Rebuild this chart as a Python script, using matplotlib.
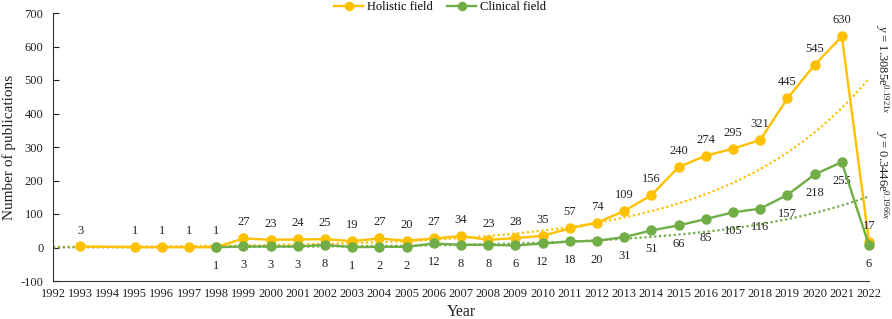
import numpy as np
import matplotlib
matplotlib.use("Agg")
import matplotlib.pyplot as plt

plt.rcParams['font.family'] = ['Liberation Serif', 'DejaVu Serif']
plt.rcParams['axes.unicode_minus'] = False
plt.rcParams['mathtext.fontset'] = 'custom'
plt.rcParams['mathtext.rm'] = 'Liberation Serif'
plt.rcParams['mathtext.it'] = 'Liberation Serif:italic'

holistic_years = [1993, 1995, 1996, 1997, 1998, 1999, 2000, 2001, 2002, 2003, 2004, 2005,
                  2006, 2007, 2008, 2009, 2010, 2011, 2012, 2013, 2014, 2015, 2016, 2017,
                  2018, 2019, 2020, 2021, 2022]
holistic_values = [3, 1, 1, 1, 1, 27, 23, 24, 25, 19, 27, 20, 27, 34, 23, 28, 35, 57, 74,
                   109, 156, 240, 274, 295, 321, 445, 545, 630, 17]
clinical_years = [1998, 1999, 2000, 2001, 2002, 2003, 2004, 2005, 2006, 2007, 2008, 2009,
                  2010, 2011, 2012, 2013, 2014, 2015, 2016, 2017, 2018, 2019, 2020, 2021, 2022]
clinical_values = [1, 3, 3, 3, 8, 1, 2, 2, 12, 8, 8, 6, 12, 18, 20, 31, 51, 66, 85, 105,
                   116, 157, 218, 255, 6]
# exponential trendlines y = a*exp(b*x), x = 1 at 1992
holistic_trend = (1.3085, 0.1921)
clinical_trend = (0.3446, 0.1966)
year_labels = list(range(1992, 2023))

c_hol = '#FFC000'
c_cli = '#70AD47'
tc = '#222222'

fig = plt.figure(figsize=(8.92, 3.19), dpi=100)
ax = fig.add_axes([53/892, 38/319, 816/892, 268/319])

tx = np.linspace(1992, 2022, 300)
xi = tx - 1991
ax.plot(tx, holistic_trend[0]*np.exp(holistic_trend[1]*xi), ls=(0, (1, 1.2)), color=c_hol, lw=1.6, zorder=2)
ax.plot(tx, clinical_trend[0]*np.exp(clinical_trend[1]*xi), ls=(0, (1, 1.2)), color=c_cli, lw=1.6, zorder=2)

ax.plot(holistic_years, holistic_values, '-o', color=c_hol, lw=1.7, ms=6.5, label='Holistic field', zorder=3, clip_on=False)
ax.plot(clinical_years, clinical_values, '-o', color=c_cli, lw=1.7, ms=6.5, label='Clinical field', zorder=4, clip_on=False)

for x, v in zip(holistic_years, holistic_values):
    ax.annotate(str(v), (x, v), xytext=(0, 11.5), textcoords='offset points', ha='center', va='center', fontsize=9, color=tc)
for x, v in zip(clinical_years, clinical_values):
    ax.annotate(str(v), (x, v), xytext=(0, -13.5), textcoords='offset points', ha='center', va='center', fontsize=9, color=tc)

ax.set_xlim(1992, 2022)
ax.set_ylim(-100, 700)
ax.set_yticks(range(-100, 701, 100))
ax.set_xticks(year_labels)
ax.set_xticklabels([str(y) for y in year_labels])
ax.tick_params(axis='x', length=0, labelsize=9, pad=5, colors=tc)
ax.set_xticks(range(1992, 2023, 2), minor=True)
ax.tick_params(axis='x', which='minor', direction='in', length=4, color='#333333')
ax.tick_params(axis='y', direction='in', length=4, labelsize=9, colors=tc, pad=7)
for s in ['top', 'right']:
    ax.spines[s].set_visible(False)
for s in ['left', 'bottom']:
    ax.spines[s].set_color('#333333')

ax.set_ylabel('Number of publications', fontsize=11, color=tc, labelpad=3)
ax.set_xlabel('Year', fontsize=11.5, color=tc, labelpad=3)

fig.text(882/892, 1 - 69/319, r'$y$ = 1.3085e$^{0.1921x}$', rotation=-90, ha='center', va='center', fontsize=9, color=tc)
fig.text(882/892, 1 - 175/319, r'$y$ = 0.3446e$^{0.1966x}$', rotation=-90, ha='center', va='center', fontsize=9, color=tc)

fig.legend(loc='center', bbox_to_anchor=(440/892, 1 - 7/319), ncol=2, frameon=False, fontsize=9,
           handlelength=2.3, handletextpad=0.3, columnspacing=1.2, borderpad=0, markerscale=0.9)

fig.savefig('out.png', dpi=100)
